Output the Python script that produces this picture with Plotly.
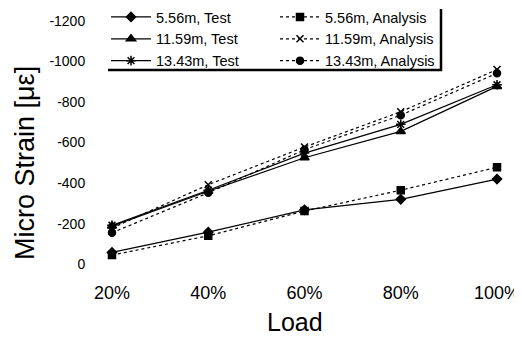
import plotly.graph_objects as go

loads = [20, 40, 60, 80, 100]
load_labels = ["20%", "40%", "60%", "80%", "100%"]
y_ticks = [0, -200, -400, -600, -800, -1000, -1200]

test_556 = [-58, -158, -268, -320, -420]
anal_556 = [-45, -140, -262, -365, -478]
test_1159 = [-188, -360, -525, -655, -877]
anal_1159 = [-178, -392, -578, -752, -960]
test_1343 = [-192, -365, -548, -690, -885]
anal_1343 = [-155, -352, -565, -735, -942]

series = [
    ("5.56m, Test", test_556, "solid", "diamond", 7),
    ("5.56m, Analysis", anal_556, "dot", "square", 7),
    ("11.59m, Test", test_1159, "solid", "triangle-up", 8),
    ("11.59m, Analysis", anal_1159, "dot", "x-thin", 7),
    ("13.43m, Test", test_1343, "solid", "asterisk", 8),
    ("13.43m, Analysis", anal_1343, "dot", "circle", 7),
]

fig = go.Figure()
for name, vals, dash, sym, sz in series:
    fig.add_trace(go.Scatter(
        x=loads, y=vals, name=name, mode="lines+markers",
        line=dict(color="black", width=1.2, dash=dash),
        marker=dict(symbol=sym, size=sz, color="black",
                    line=dict(color="black", width=1.5)),
    ))

# page body has an 8px margin; figure is sized to fit the window exactly
OFF = 8
W, H = 522 - OFF, 338 - OFF
# plot area in window pixels: x 95..510, y 11..280
L, R, T, B = 95 - OFF, 522 - 510, 11 - OFF, 338 - 280
pw, ph = W - L - R, H - T - B

def px_x(p):
    return (p - OFF - L) / pw

def px_y(p):
    return (H - B - (p - OFF)) / ph

fig.update_layout(
    width=W, height=H,
    margin=dict(l=L, r=R, t=T, b=B, autoexpand=False),
    paper_bgcolor="white", plot_bgcolor="white",
    font=dict(family="Liberation Sans, Arial, sans-serif", color="black"),
    showlegend=True,
    legend=dict(
        orientation="h", x=px_x(106), y=px_y(1), xanchor="left", yanchor="top",
        entrywidth=114, entrywidthmode="pixels",
        font=dict(size=14.5), bgcolor="rgba(0,0,0,0)", borderwidth=0,
        itemwidth=40, tracegroupgap=0,
    ),
    xaxis=dict(
        range=[16.47, 102.7], tickvals=loads, ticktext=load_labels,
        showgrid=False, zeroline=False, showline=False, automargin=False,
        ticks="", tickfont=dict(size=18),
    ),
    yaxis=dict(
        range=[78, -1249], tickvals=y_ticks, ticktext=[str(v) for v in y_ticks],
        showgrid=False, zeroline=False, showline=False, automargin=False,
        ticks="outside", ticklen=6, tickcolor="rgba(0,0,0,0)",
        tickfont=dict(size=14),
    ),
    annotations=[
        dict(text="Load", x=px_x(295), y=px_y(322), xref="paper", yref="paper",
             showarrow=False, font=dict(size=25), xanchor="center", yanchor="middle"),
        dict(text="Micro Strain [με]", x=px_x(25), y=px_y(163), xref="paper", yref="paper",
             showarrow=False, font=dict(size=27), textangle=-90,
             xanchor="center", yanchor="middle"),
    ],
    shapes=[
        dict(type="path", xref="paper", yref="paper",
             path=f"M {px_x(108)} {px_y(70)} L {px_x(441)} {px_y(70)} L {px_x(441)} {px_y(9)}",
             line=dict(color="black", width=2.5)),
    ],
)

fig.write_html("out.html")
